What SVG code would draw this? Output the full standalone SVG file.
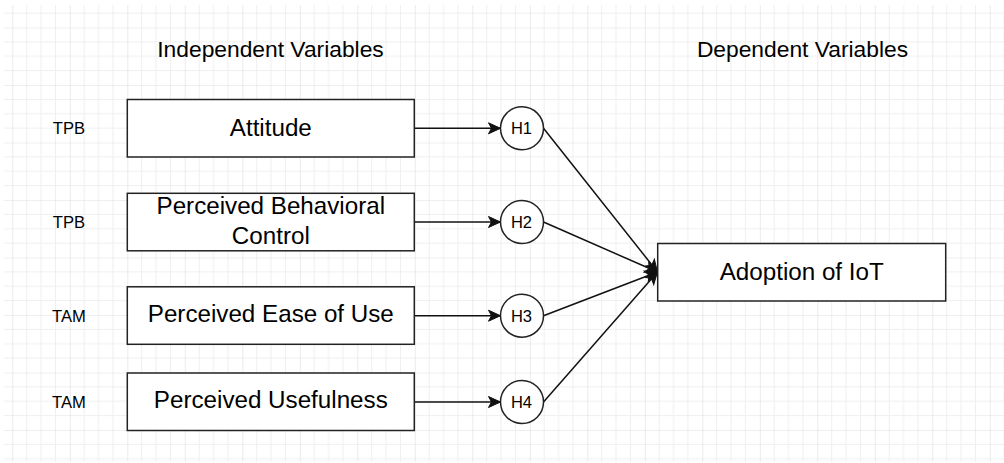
<svg xmlns="http://www.w3.org/2000/svg" width="1004" height="463" viewBox="0 0 1004 463">
<style>
  .hdr { font-family: "Liberation Sans", Arial, sans-serif; font-size: 22.8px; fill: #000; text-anchor: middle; }
  .lbl { font-family: "Liberation Sans", Arial, sans-serif; font-size: 24.2px; fill: #000; text-anchor: middle; }
  .side { font-family: "Liberation Sans", Arial, sans-serif; font-size: 16.6px; fill: #000; text-anchor: middle; }
  .hyp { font-family: "Liberation Sans", Arial, sans-serif; font-size: 16.5px; fill: #000; text-anchor: middle; }
  .box { fill: #fff; stroke: #222; stroke-width: 1.5; }
  .circ { fill: #fff; stroke: #222; stroke-width: 1.5; }
  .edge { fill: none; stroke: #111; stroke-width: 1.5; marker-end: url(#arrow); }
</style>
<defs>
  <pattern id="grid" patternUnits="userSpaceOnUse" x="12.3" y="27.5" width="57.5" height="57.5">
    <path d="M14.375 0V57.5M28.75 0V57.5M43.125 0V57.5M0 14.375H57.5M0 28.75H57.5M0 43.125H57.5" stroke="#efefef" stroke-width="1" fill="none"/>
    <path d="M0 0V57.5M0 0H57.5" stroke="#dedede" stroke-width="1.2" fill="none"/>
  </pattern>
  <marker id="arrow" markerUnits="userSpaceOnUse" markerWidth="14" markerHeight="14" viewBox="-13 -7 14 14" refX="0" refY="0" orient="auto">
    <path d="M0 0L-12 -5.5L-9 0L-12 5.5Z" fill="#111" stroke="#111" stroke-width="1"/>
  </marker>
</defs>
<rect x="0" y="0" width="1004" height="463" fill="#fff"/>
<rect x="4" y="5" width="1000" height="457" fill="url(#grid)"/>

<g id="header-independent"><text class="hdr" x="270.5" y="57">Independent Variables</text></g>
<g id="header-dependent"><text class="hdr" x="802.5" y="57">Dependent Variables</text></g>

<g id="tag-tpb-1"><text class="side" x="69" y="134.3">TPB</text></g>
<g id="tag-tpb-2"><text class="side" x="69" y="227.7">TPB</text></g>
<g id="tag-tam-1"><text class="side" x="69" y="322">TAM</text></g>
<g id="tag-tam-2"><text class="side" x="69" y="408.3">TAM</text></g>

<g id="connectors">
  <line class="edge" x1="414.5" y1="128.3" x2="500.5" y2="128.3"/>
  <line class="edge" x1="414.5" y1="222" x2="500.5" y2="222"/>
  <line class="edge" x1="414.5" y1="315.7" x2="500.5" y2="315.7"/>
  <line class="edge" x1="414.5" y1="402" x2="500.5" y2="402"/>
  <line class="edge" x1="543.5" y1="128.3" x2="657.5" y2="272"/>
  <line class="edge" x1="543.5" y1="222" x2="657.5" y2="272"/>
  <line class="edge" x1="543.5" y1="315.7" x2="657.5" y2="272"/>
  <line class="edge" x1="543.5" y1="402" x2="657.5" y2="272"/>
</g>

<g id="node-attitude">
  <rect class="box" x="127.3" y="99.5" width="287" height="57.5"/>
  <text class="lbl" x="270.8" y="135.7">Attitude</text>
</g>
<g id="node-pbc">
  <rect class="box" x="127.3" y="193.3" width="287" height="57.5"/>
  <text class="lbl" x="270.8" y="214">Perceived Behavioral</text>
  <text class="lbl" x="270.8" y="244">Control</text>
</g>
<g id="node-peou">
  <rect class="box" x="127.3" y="286.8" width="287" height="57.5"/>
  <text class="lbl" x="270.8" y="322.3">Perceived Ease of Use</text>
</g>
<g id="node-pu">
  <rect class="box" x="127.3" y="373" width="287" height="57.5"/>
  <text class="lbl" x="270.8" y="408.3">Perceived Usefulness</text>
</g>

<g id="node-h1">
  <circle class="circ" cx="522" cy="128.3" r="21.5"/>
  <text class="hyp" x="521.5" y="134.3">H1</text>
</g>
<g id="node-h2">
  <circle class="circ" cx="522" cy="222" r="21.5"/>
  <text class="hyp" x="521.5" y="228">H2</text>
</g>
<g id="node-h3">
  <circle class="circ" cx="522" cy="315.7" r="21.5"/>
  <text class="hyp" x="521.5" y="321.7">H3</text>
</g>
<g id="node-h4">
  <circle class="circ" cx="522" cy="402" r="21.5"/>
  <text class="hyp" x="521.5" y="408">H4</text>
</g>

<g id="node-adoption">
  <rect class="box" x="657.7" y="243.5" width="288" height="57.5"/>
  <text class="lbl" x="801.7" y="280">Adoption of IoT</text>
</g>
</svg>
